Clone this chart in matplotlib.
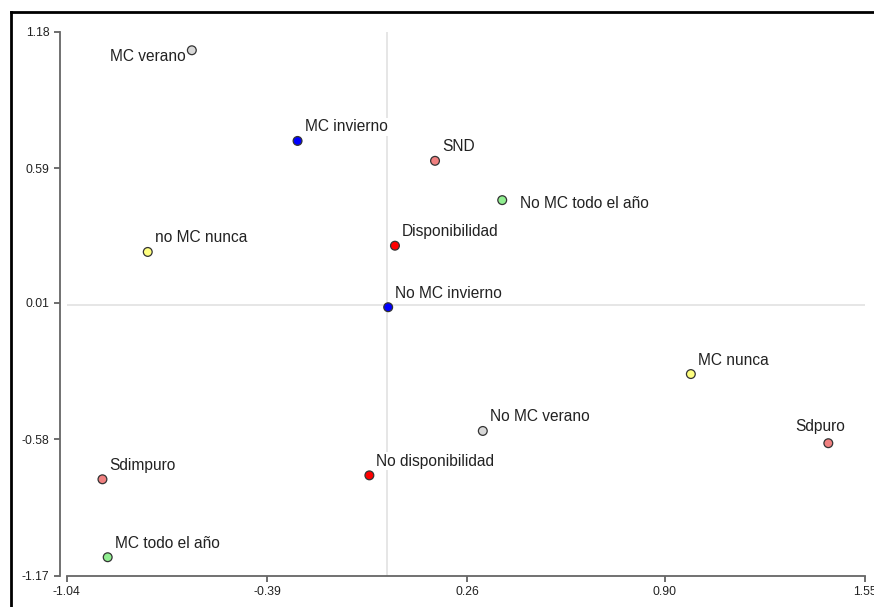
import matplotlib
matplotlib.use("Agg")
import matplotlib.pyplot as plt
from matplotlib.lines import Line2D

plt.rcParams['font.family'] = ['Liberation Sans', 'DejaVu Sans']

# category coordinates
labels = ["MC verano", "MC invierno", "SND", "No MC todo el año", "Disponibilidad",
          "no MC nunca", "No MC invierno", "MC nunca", "No MC verano", "Sdpuro",
          "Sdimpuro", "No disponibilidad", "MC todo el año"]
dim1 = [-0.634, -0.291, 0.155, 0.373, 0.025, -0.777, 0.003, 0.985, 0.310, 1.431,
        -0.924, -0.058, -0.907]
dim2 = [1.101, 0.709, 0.623, 0.453, 0.256, 0.229, -0.010, -0.299, -0.545, -0.598,
        -0.754, -0.737, -1.091]
colors = ["#d8d8d8", "#0000ff", "#f08080", "#90ee90", "#ff0000", "#ffff80",
          "#0000ff", "#ffff80", "#d8d8d8", "#f08080", "#f08080", "#ff0000", "#90ee90"]
xticks = [-1.04, -0.39, 0.26, 0.90, 1.55]
yticks = [-1.17, -0.58, 0.01, 0.59, 1.18]

# label placement (offset in pixels, alignment)
offsets = {"MC verano": (-6, -6, "right"), "No MC todo el año": (18, -3, "left"),
           "Sdpuro": (-8, 17, "center")}

fig = plt.figure(figsize=(8.74, 6.07), dpi=100)
ax = fig.add_axes([66.7 / 874, 1 - 575.5 / 607, 798.3 / 874, 543.5 / 607])

ax.axvline(0, color="#e4e4e4", lw=1.3, zorder=0)
ax.axhline(0, color="#e4e4e4", lw=1.3, zorder=0)

ax.scatter(dim1, dim2, s=40, c=colors, edgecolors="#333333", linewidths=0.9,
           zorder=3, clip_on=False)

for lab, x, y in zip(labels, dim1, dim2):
    dx, dy, ha = offsets.get(lab, (7, 14, "left"))
    ax.annotate(lab, (x, y), xytext=(dx, dy), textcoords="offset pixels",
                ha=ha, va="center", fontsize=11.2, color="#222222", zorder=2,
                bbox=dict(boxstyle="square,pad=0.1", fc="white", ec="none"))

ax.set_xlim(-1.04, 1.55)
ax.set_ylim(-1.17, 1.18)
ax.set_xticks(xticks)
ax.set_yticks(yticks)
ax.set_xticklabels(["%.2f" % v for v in xticks])
ax.set_yticklabels(["%.2f" % v for v in yticks])
ax.tick_params(labelsize=8.8, colors="#555555", labelcolor="#222222", length=4, width=1.2)

for s in ["top", "right"]:
    ax.spines[s].set_visible(False)
for s in ["left", "bottom"]:
    ax.spines[s].set_color("#666666")
    ax.spines[s].set_linewidth(1.3)
ax.spines["left"].set_position(("outward", 5))

# black frame around the picture (right and bottom sides cut off)
fig.add_artist(Line2D([10.5 / 874, 10.5 / 874], [0, 1 - 12 / 607], color="black", lw=2))
fig.add_artist(Line2D([10.5 / 874, 1], [1 - 12 / 607, 1 - 12 / 607], color="black", lw=2))

fig.savefig("out.png", dpi=100)
